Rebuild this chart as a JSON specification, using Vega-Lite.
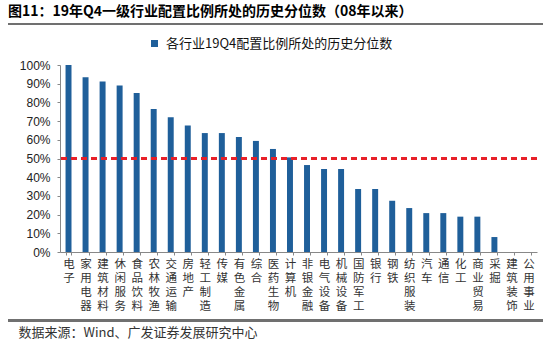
{
  "$schema": "https://vega.github.io/schema/vega-lite/v6.json",
  "width": 477,
  "height": 187,
  "autosize": {"type": "none"},
  "padding": {"left": 60, "top": 65, "right": 17, "bottom": 94},
  "background": "white",
  "config": {"view": {"stroke": null}, "font": "Noto Sans CJK SC"},
  "title": {
    "text": "图11：19年Q4一级行业配置比例所处的历史分位数（08年以来）",
    "anchor": "start",
    "frame": "group",
    "dx": -52,
    "fontSize": 14,
    "fontWeight": "bold",
    "color": "#000000",
    "font": "Noto Sans CJK SC"
  },
  "data": {
    "values": [
      {"industry": "电子", "pct": 1.0},
      {"industry": "家用电器", "pct": 0.934},
      {"industry": "建筑材料", "pct": 0.912},
      {"industry": "休闲服务", "pct": 0.891},
      {"industry": "食品饮料", "pct": 0.85},
      {"industry": "农林牧渔", "pct": 0.765},
      {"industry": "交通运输", "pct": 0.72},
      {"industry": "房地产", "pct": 0.677},
      {"industry": "轻工制造", "pct": 0.636},
      {"industry": "传媒", "pct": 0.636},
      {"industry": "有色金属", "pct": 0.615},
      {"industry": "综合", "pct": 0.594},
      {"industry": "医药生物", "pct": 0.551},
      {"industry": "计算机", "pct": 0.506},
      {"industry": "非银金融", "pct": 0.465},
      {"industry": "电气设备", "pct": 0.444},
      {"industry": "机械设备", "pct": 0.444},
      {"industry": "国防军工", "pct": 0.337},
      {"industry": "银行", "pct": 0.337},
      {"industry": "钢铁", "pct": 0.274},
      {"industry": "纺织服装", "pct": 0.235},
      {"industry": "汽车", "pct": 0.208},
      {"industry": "通信", "pct": 0.208},
      {"industry": "化工", "pct": 0.189},
      {"industry": "商业贸易", "pct": 0.189},
      {"industry": "采掘", "pct": 0.08},
      {"industry": "建筑装饰", "pct": 0.0},
      {"industry": "公用事业", "pct": 0.0}
    ]
  },
  "layer": [
    {
      "mark": {"type": "bar", "color": "#1f5f9a"},
      "encoding": {
        "x": {
          "field": "industry",
          "type": "nominal",
          "sort": null,
          "scale": {"paddingInner": 0.65, "paddingOuter": 0.325},
          "axis": {
            "title": "数据来源：Wind、广发证券发展研究中心",
            "titleAnchor": "start",
            "titleX": -42,
            "titleY": 84,
            "titleBaseline": "alphabetic",
            "titleFontSize": 13,
            "titleFontWeight": "normal",
            "titleColor": "#333333",
            "titleFont": "Noto Sans CJK SC",
            "labelExpr": "split(datum.label, '')",
            "labelAngle": 0,
            "labelAlign": "center",
            "labelBaseline": "top",
            "labelLineHeight": 14,
            "labelFontSize": 11.5,
            "labelColor": "#333333",
            "labelFont": "Noto Sans CJK SC",
            "labelPadding": 3,
            "labelOverlap": false,
            "labelBound": false,
            "tickBand": "extent",
            "tickSize": 3,
            "tickColor": "#888888",
            "domainColor": "#888888",
            "grid": false
          }
        },
        "y": {
          "field": "pct",
          "type": "quantitative",
          "scale": {"domain": [0, 1]},
          "axis": {
            "title": null,
            "format": ".0%",
            "values": [0, 0.1, 0.2, 0.3, 0.4, 0.5, 0.6, 0.7, 0.8, 0.9, 1.0],
            "grid": false,
            "labelOverlap": false,
            "labelFont": "Liberation Sans",
            "labelFontSize": 12,
            "labelColor": "#222222",
            "labelPadding": 7,
            "tickSize": 3,
            "tickColor": "#888888",
            "domainColor": "#888888"
          }
        },
        "color": {
          "datum": "各行业19Q4配置比例所处的历史分位数",
          "scale": {"range": ["#1f5f9a"]},
          "legend": {
            "title": null,
            "orient": "none",
            "legendX": 88,
            "legendY": -28,
            "symbolType": "square",
            "symbolSize": 49,
            "symbolStrokeWidth": 0,
            "labelFontSize": 13,
            "labelFont": "Noto Sans CJK SC",
            "labelColor": "#111111",
            "labelOffset": 5,
            "labelLimit": 400
          }
        }
      }
    },
    {
      "mark": {"type": "rule", "color": "#e8202a", "strokeDash": [6, 4], "strokeWidth": 1.5},
      "encoding": {
        "y": {
          "datum": 0.5,
          "type": "quantitative",
          "axis": {
            "title": null,
            "format": ".0%",
            "values": [0, 0.1, 0.2, 0.3, 0.4, 0.5, 0.6, 0.7, 0.8, 0.9, 1.0],
            "grid": false,
            "labelOverlap": false,
            "labelFont": "Liberation Sans",
            "labelFontSize": 12,
            "labelColor": "#222222",
            "labelPadding": 7,
            "tickSize": 3,
            "tickColor": "#888888",
            "domainColor": "#888888"
          }
        }
      }
    },
    {
      "mark": {"type": "rule", "color": "#707070", "strokeWidth": 1.5, "clip": false},
      "encoding": {
        "x": {"datum": -52, "type": "quantitative", "scale": {"domain": [0, 477]}, "axis": null},
        "x2": {"datum": 483},
        "y": {
          "datum": 1.22,
          "type": "quantitative",
          "axis": {
            "title": null,
            "format": ".0%",
            "values": [0, 0.1, 0.2, 0.3, 0.4, 0.5, 0.6, 0.7, 0.8, 0.9, 1.0],
            "grid": false,
            "labelOverlap": false,
            "labelFont": "Liberation Sans",
            "labelFontSize": 12,
            "labelColor": "#222222",
            "labelPadding": 7,
            "tickSize": 3,
            "tickColor": "#888888",
            "domainColor": "#888888"
          }
        }
      }
    },
    {
      "mark": {"type": "rule", "color": "#707070", "strokeWidth": 1.5, "clip": false},
      "encoding": {
        "x": {"datum": -52, "type": "quantitative", "scale": {"domain": [0, 477]}, "axis": null},
        "x2": {"datum": 483},
        "y": {
          "datum": -0.366,
          "type": "quantitative",
          "axis": {
            "title": null,
            "format": ".0%",
            "values": [0, 0.1, 0.2, 0.3, 0.4, 0.5, 0.6, 0.7, 0.8, 0.9, 1.0],
            "grid": false,
            "labelOverlap": false,
            "labelFont": "Liberation Sans",
            "labelFontSize": 12,
            "labelColor": "#222222",
            "labelPadding": 7,
            "tickSize": 3,
            "tickColor": "#888888",
            "domainColor": "#888888"
          }
        }
      }
    }
  ],
  "resolve": {"scale": {"x": "independent"}, "axis": {"x": "independent"}}
}
